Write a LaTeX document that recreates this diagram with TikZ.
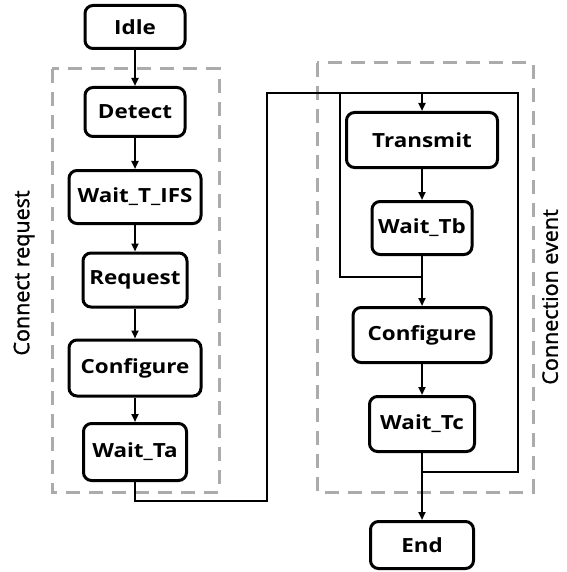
\documentclass[tikz,border=0pt]{standalone}
\usepackage{fontspec}
\setmainfont{Open Sans}
\newfontfamily\statefont[FakeStretch=1.15]{Open Sans}
\newfontfamily\tagfont[FakeBold=1.3]{Open Sans}
\usepackage{tikz}
\usetikzlibrary{arrows.meta,positioning,calc}
\definecolor{ink}{HTML}{000000}
\definecolor{dash}{HTML}{ABABAB}
\tikzset{state/.style={draw=ink,line width=3pt,rounded corners=8pt,align=center,font=\statefont\fontsize{19.5}{22}\selectfont\bfseries,text=ink,inner sep=4pt},
  wire/.style={line width=2.2pt,draw=ink},
  arr/.style={wire,-{Triangle[length=8pt,width=7pt]}},
  group/.style={draw=dash,line width=3pt,dash pattern=on 14pt off 9pt},
  tag/.style={rotate=90,font=\tagfont\fontsize{21.5}{24}\selectfont,text=ink}}

\begin{document}
\begin{tikzpicture}[x=1pt,y=-1pt]
\useasboundingbox (0,0) rectangle (566,572);
% left branch
\node[state,minimum width=100pt,minimum height=43pt] (idle) at (135,27) {Idle};
\node[state,minimum width=100pt,minimum height=49pt] (detect) at (135,112) {Detect};
\node[state,minimum width=132pt,minimum height=53pt] (wtifs) at (135,197) {Wait\_T\_IFS};
\node[state,minimum width=104pt,minimum height=54pt] (request) at (135,280) {Request};
\node[state,minimum width=132pt,minimum height=56pt] (confa) at (135,368) {Configure};
\node[state,minimum width=103pt,minimum height=57pt] (waitta) at (135,452) {Wait\_Ta};
% right branch
\node[state,minimum width=151pt,minimum height=55pt] (transmit) at (422,140) {Transmit};
\node[state,minimum width=100pt,minimum height=53pt] (waittb) at (422,228) {Wait\_Tb};
\node[state,minimum width=138pt,minimum height=55pt] (confb) at (422,335) {Configure};
\node[state,minimum width=105pt,minimum height=55pt] (waittc) at (422,424) {Wait\_Tc};
\node[state,minimum width=103pt,minimum height=47pt] (end) at (422,545) {End};
% groups
\draw[group] (52,69) rectangle (219,492);
\draw[group] (317,63) rectangle (533,492);
\node[tag] (lreq) at (24,273) {Connect request};
\node[tag] (levt) at (550,297) {Connection event};
% joints
\coordinate (jtop) at (422,93);
\coordinate (jmid) at (422,277);
\coordinate (jlow) at (422,472);
\coordinate (ltop) at (267,93);
\coordinate (itop) at (340,93);
\coordinate (rtop) at (518,93);
% arrows
\draw[arr] (idle) -- (detect);
\draw[arr] (detect) -- (wtifs);
\draw[arr] (wtifs) -- (request);
\draw[arr] (request) -- (confa);
\draw[arr] (confa) -- (waitta);
\draw[wire] (waitta.south) -- ++(0,19) -| (ltop) -- (jtop);
\draw[arr] (jtop) -- (transmit);
\draw[arr] (transmit) -- (waittb);
\draw[wire] (waittb) -- (jmid);
\draw[wire] (itop) |- (jmid);
\draw[arr] (jmid) -- (confb);
\draw[arr] (confb) -- (waittc);
\draw[arr] (waittc) -- (end);
\draw[wire] (jlow) -| (rtop) -- (jtop);
\end{tikzpicture}
\end{document}
